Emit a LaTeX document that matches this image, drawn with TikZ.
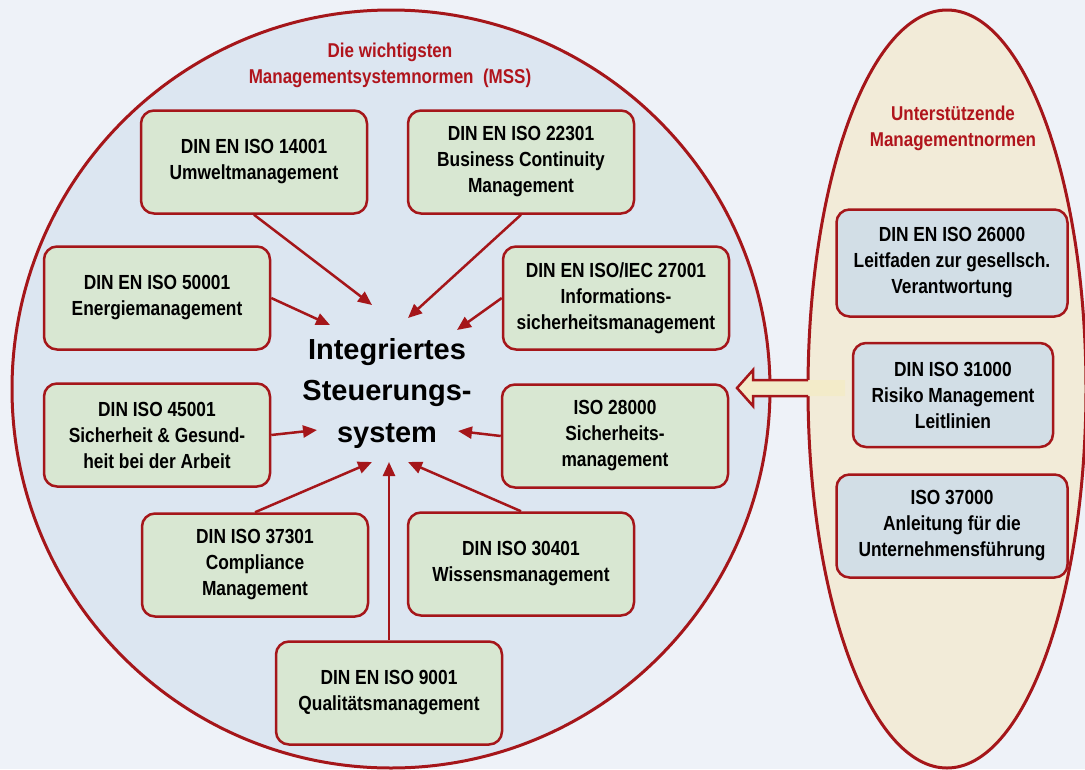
\documentclass[tikz,border=0pt]{standalone}
\usepackage{fontspec}
\setmainfont{Liberation Sans}
\newfontfamily\narrowfont{Liberation Sans}[FakeStretch=0.85]
\usetikzlibrary{arrows.meta}

\definecolor{bgcol}{HTML}{EEF2F8}
\definecolor{circfill}{HTML}{DCE6F1}
\definecolor{darkred}{HTML}{A5161A}
\definecolor{titlered}{HTML}{B0141C}
\definecolor{ellfill}{HTML}{F2EBD8}
\definecolor{boxgreen}{HTML}{D8E7D2}
\definecolor{boxblue}{HTML}{D2DEE6}
\definecolor{arrowfill}{HTML}{F3EBC9}

\tikzset{
    mssbox/.style={draw=darkred, line width=2.5pt, fill=boxgreen, rounded corners=13pt,
        minimum width=226pt, minimum height=103pt, align=center,
        font=\narrowfont\bfseries\fontsize{20.4}{26}\selectfont},
    supbox/.style={mssbox, fill=boxblue},
    feed/.style={draw=darkred, line width=2.5pt, -{Triangle[length=14pt,width=12pt]}},
    heading/.style={align=center, text=titlered, font=\narrowfont\bfseries\fontsize{20}{26}\selectfont},
}

\begin{document}
\begin{tikzpicture}[x=1pt, y=-1pt]
    % Background and the two areas
    \useasboundingbox (0,0) rectangle (1085,769);
    \fill[bgcol] (0,0) rectangle (1085,769);
    \draw[darkred, line width=3pt, fill=circfill] (391,389) circle[radius=379];
    \draw[darkred, line width=3pt, fill=ellfill] (947,389) ellipse[x radius=139, y radius=379];

    % Block arrow from the supporting norms
    \fill[arrowfill] (845,380) -- (753,380) -- (753,370) -- (737,388) -- (753,406) -- (753,396) -- (845,396) -- cycle;
    \draw[darkred, line width=2.5pt, line join=miter] (808,380) -- (753,380) -- (753,370) -- (737,388) -- (753,406) -- (753,396) -- (808,396);

    % Headings
    \node[heading] (msstitle) at (390,65) {Die wichtigsten\\Managementsystemnormen\ \ (MSS)};
    \node[heading] (suptitle) at (953,128) {Unterstützende\\Managementnormen};

    % Centre
    \node[align=center, font=\bfseries\fontsize{29}{41.5}\selectfont] (ims) at (387,393) {Integriertes\\Steuerungs-\\system};

    % Management system norms
    \node[mssbox] (umwelt) at (254,162) {DIN EN ISO 14001\\Umweltmanagement};
    \node[mssbox] (bcm) at (521,162) {DIN EN ISO 22301\\Business Continuity\\Management};
    \node[mssbox] (infosec) at (616,298) {DIN EN ISO/IEC 27001\\Informations-\\sicherheitsmanagement};
    \node[mssbox] (energie) at (157,298) {DIN EN ISO 50001\\Energiemanagement};
    \node[mssbox] (arbeit) at (157,435) {DIN ISO 45001\\Sicherheit \& Gesund-\\heit bei der Arbeit};
    \node[mssbox] (sicherheit) at (615,436) {ISO 28000\\Sicherheits-\\management};
    \node[mssbox] (compliance) at (255,565) {DIN ISO 37301\\Compliance\\Management};
    \node[mssbox] (wissen) at (521,564) {DIN ISO 30401\\Wissensmanagement};
    \node[mssbox] (qualitaet) at (389,693) {DIN EN ISO 9001\\Qualitätsmanagement};

    % Supporting norms
    \node[supbox, minimum width=231pt, minimum height=107pt] (csr) at (952,263) {DIN EN ISO 26000\\Leitfaden zur gesellsch.\\Verantwortung};
    \node[supbox, minimum width=200pt, minimum height=104pt] (risiko) at (953,395) {DIN ISO 31000\\Risiko Management\\Leitlinien};
    \node[supbox, minimum width=231pt, minimum height=103pt] (fuehrung) at (952,526) {ISO 37000\\Anleitung für die\\Unternehmensführung};

    % Arrow tips round the centre
    \coordinate (tA) at (372,305);
    \coordinate (tB) at (408,318);
    \coordinate (tC) at (457,330);
    \coordinate (tD) at (330,325);
    \coordinate (tE) at (317,430);
    \coordinate (tF) at (458,431);
    \coordinate (tG) at (372,462);
    \coordinate (tH) at (408,462);
    \coordinate (tI) at (389,462);

    % Draw the feeding arrows
    \draw[feed] (umwelt.south) -- (tA);
    \draw[feed] (bcm.south) -- (tB);
    \draw[feed] (infosec.west) -- (tC);
    \draw[feed] (energie.east) -- (tD);
    \draw[feed] (arbeit.east) -- (tE);
    \draw[feed] (sicherheit.west) -- (tF);
    \draw[feed] (compliance.north) -- (tG);
    \draw[feed] (wissen.north) -- (tH);
    \draw[feed] (qualitaet.north) -- (tI);
\end{tikzpicture}
\end{document}
